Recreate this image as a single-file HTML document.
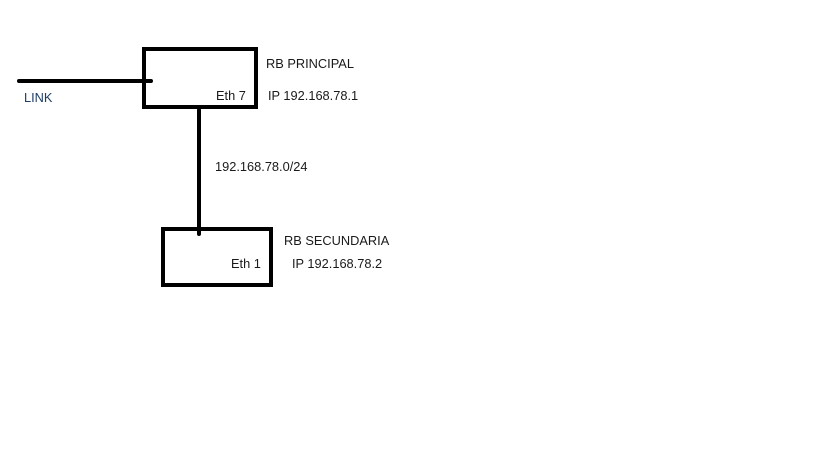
<!DOCTYPE html>
<html><head><style>
body{margin:0;width:819px;height:460px;background:#fff;position:relative;overflow:hidden;font-family:"Liberation Sans",sans-serif;font-size:12.8px;color:#1a1a1a}
.b{position:absolute;border:4px solid #000;box-sizing:border-box}
.l{position:absolute;background:#000}
.t{position:absolute;white-space:nowrap;line-height:14px}
</style></head><body>
<div class="b" style="left:142px;top:47px;width:116px;height:62px"></div>
<div class="b" style="left:161px;top:227px;width:112px;height:60px"></div>
<div class="l" style="left:17px;top:79px;width:136px;height:4px;border-radius:2px"></div>
<div class="l" style="left:197px;top:108px;width:4px;height:128px;border-radius:2px"></div>
<div class="t" style="left:24px;top:91px;color:#1f3d66">LINK</div>
<div class="t" style="left:266px;top:57px">RB PRINCIPAL</div>
<div class="t" style="left:216px;top:89px">Eth 7</div>
<div class="t" style="left:268px;top:89px">IP 192.168.78.1</div>
<div class="t" style="left:215px;top:160px">192.168.78.0/24</div>
<div class="t" style="left:284px;top:234px">RB SECUNDARIA</div>
<div class="t" style="left:231px;top:257px">Eth 1</div>
<div class="t" style="left:292px;top:257px">IP 192.168.78.2</div>
</body></html>
